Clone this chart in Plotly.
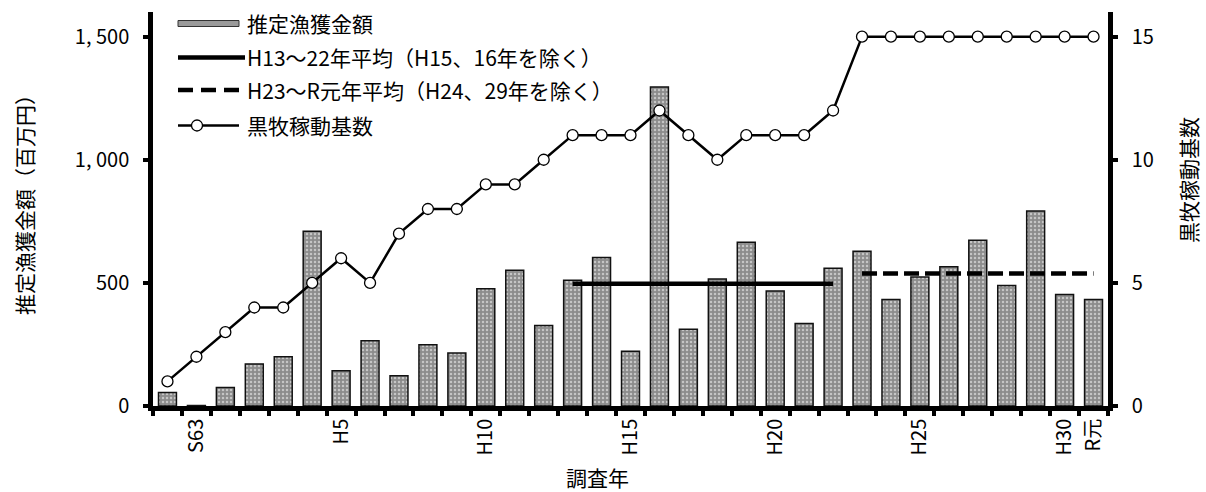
import plotly.graph_objects as go

# 調査年 (S62 .. R元)
years = ["S62", "S63"] + [f"H{i}" for i in range(1, 31)] + ["R元"]
labeled_years = ["S63", "H5", "H10", "H15", "H20", "H25", "H30", "R元"]

# 推定漁獲金額 (百万円)
amount = [55, 2, 75, 171, 200, 710, 143, 265, 123, 249, 215, 476, 551, 327,
          511, 603, 222, 1295, 312, 516, 665, 467, 335, 559, 628, 432, 524,
          565, 673, 489, 792, 453, 432]

# 黒牧稼動基数
units = [1, 2, 3, 4, 4, 5, 6, 5, 7, 8, 8, 9, 9, 10, 11, 11, 11, 12, 11, 10,
         11, 11, 11, 12, 15, 15, 15, 15, 15, 15, 15, 15, 15]

# averaging periods and excluded years
period1 = ("H13", "H22")
excluded1 = ["H15", "H16"]
period2 = ("H23", "R元")
excluded2 = ["H24", "H29"]

y_ticks = [0, 500, 1000, 1500]
y_ticktext = ["0", "500", "1, 000", "1, 500"]
y2_ticks = [0, 5, 10, 15]


def period_mean(start, end, excluded):
    i0, i1 = years.index(start), years.index(end)
    vals = [amount[i] for i in range(i0, i1 + 1) if years[i] not in excluded]
    return sum(vals) / len(vals)


avg1 = period_mean(*period1, excluded1)
avg2 = period_mean(*period2, excluded2)

FONT = "Noto Sans CJK JP"
W, H = 1206, 492
L, R, T, B = 153, 98, 12, 86
PW, PH = W - L - R, H - T - B


def px(x):
    return (x - L) / PW


def py(y):
    return (H - B - y) / PH


fig = go.Figure()

fig.add_trace(go.Bar(
    x=years, y=amount, width=0.62,
    marker=dict(color="#8c8c8c", line=dict(color="#111", width=1.5),
                pattern=dict(shape=".", fgcolor="white", bgcolor="#8c8c8c",
                             size=4, solidity=0.3)),
    showlegend=False,
))

fig.add_trace(go.Scatter(
    x=list(period1), y=[avg1, avg1], mode="lines",
    line=dict(color="black", width=4.5), showlegend=False,
))
fig.add_trace(go.Scatter(
    x=list(period2), y=[avg2, avg2], mode="lines",
    line=dict(color="black", width=4.5, dash="15px,6px"), showlegend=False,
))

fig.add_trace(go.Scatter(
    x=years, y=units, mode="lines+markers", yaxis="y2",
    line=dict(color="black", width=2.5),
    marker=dict(symbol="circle", size=11, color="white",
                line=dict(color="black", width=1.3)),
    showlegend=False,
))

# legend drawn by hand
shapes = []
annotations = []
legend_rows = [23.5, 57.5, 90, 125.5]
legend_texts = ["推定漁獲金額",
                "H13～22年平均（H15、16年を除く）",
                "H23～R元年平均（H24、29年を除く）",
                "黒牧稼動基数"]
x0, x1 = 178, 239
shapes.append(dict(type="rect", xref="paper", yref="paper",
                   x0=px(x0), x1=px(x1), y0=py(legend_rows[0] - 3),
                   y1=py(legend_rows[0] + 3),
                   fillcolor="#9a9a9a", line=dict(color="#333", width=1)))
shapes.append(dict(type="line", xref="paper", yref="paper",
                   x0=px(x0), x1=px(x1 + 6), y0=py(legend_rows[1]),
                   y1=py(legend_rows[1]), line=dict(color="black", width=4.5)))
shapes.append(dict(type="line", xref="paper", yref="paper",
                   x0=px(x0), x1=px(x1), y0=py(legend_rows[2]),
                   y1=py(legend_rows[2]),
                   line=dict(color="black", width=4.5, dash="15px,8px")))
shapes.append(dict(type="line", xref="paper", yref="paper",
                   x0=px(x0), x1=px(x1), y0=py(legend_rows[3]),
                   y1=py(legend_rows[3]), line=dict(color="black", width=2.5)))
shapes.append(dict(type="circle", xref="paper", yref="paper",
                   x0=px(191.5), x1=px(202.5), y0=py(legend_rows[3] - 5.5),
                   y1=py(legend_rows[3] + 5.5),
                   fillcolor="white", line=dict(color="black", width=1.3)))
for yy, txt in zip(legend_rows, legend_texts):
    annotations.append(dict(text=txt, xref="paper", yref="paper",
                            x=px(245), y=py(yy), xanchor="left",
                            yanchor="middle", showarrow=False,
                            font=dict(family=FONT, size=21, color="black")))

# axis titles
annotations.append(dict(text="推定漁獲金額（百万円）", xref="paper", yref="paper",
                        x=px(24), y=py(200), textangle=-90, showarrow=False,
                        xanchor="center", yanchor="middle",
                        font=dict(family=FONT, size=21, color="black")))
annotations.append(dict(text="黒牧稼動基数", xref="paper", yref="paper",
                        x=px(1188), y=py(180), textangle=-90, showarrow=False,
                        xanchor="center", yanchor="middle",
                        font=dict(family=FONT, size=21, color="black")))
annotations.append(dict(text="調査年", xref="paper", yref="paper",
                        x=px(597), y=py(477), showarrow=False,
                        xanchor="center", yanchor="middle",
                        font=dict(family=FONT, size=21, color="black")))

axis_common = dict(showgrid=False, zeroline=False, showline=True,
                   linecolor="black", linewidth=4.5, ticks="outside",
                   ticklen=5, tickwidth=3.5, tickcolor="black",
                   tickfont=dict(family=FONT, size=20, color="black"))

fig.update_layout(
    width=W, height=H,
    margin=dict(l=L, r=R, t=T, b=B),
    paper_bgcolor="white", plot_bgcolor="white",
    xaxis=dict(type="category", categoryorder="array", categoryarray=years,
               range=[-0.5, len(years) - 0.5],
               tickmode="array", tickvals=years,
               ticktext=[y if y in labeled_years else "" for y in years],
               tickson="boundaries", tickangle=-90, **axis_common),
    yaxis=dict(range=[0, 1600], tickmode="array", tickvals=y_ticks,
               ticktext=y_ticktext, ticklabelstandoff=10, **axis_common),
    yaxis2=dict(range=[0, 16], overlaying="y", side="right",
                tickmode="array", tickvals=y2_ticks, ticklabelstandoff=10,
                **axis_common),
    shapes=shapes,
    annotations=annotations,
    showlegend=False,
)

fig.write_html("out.html")
